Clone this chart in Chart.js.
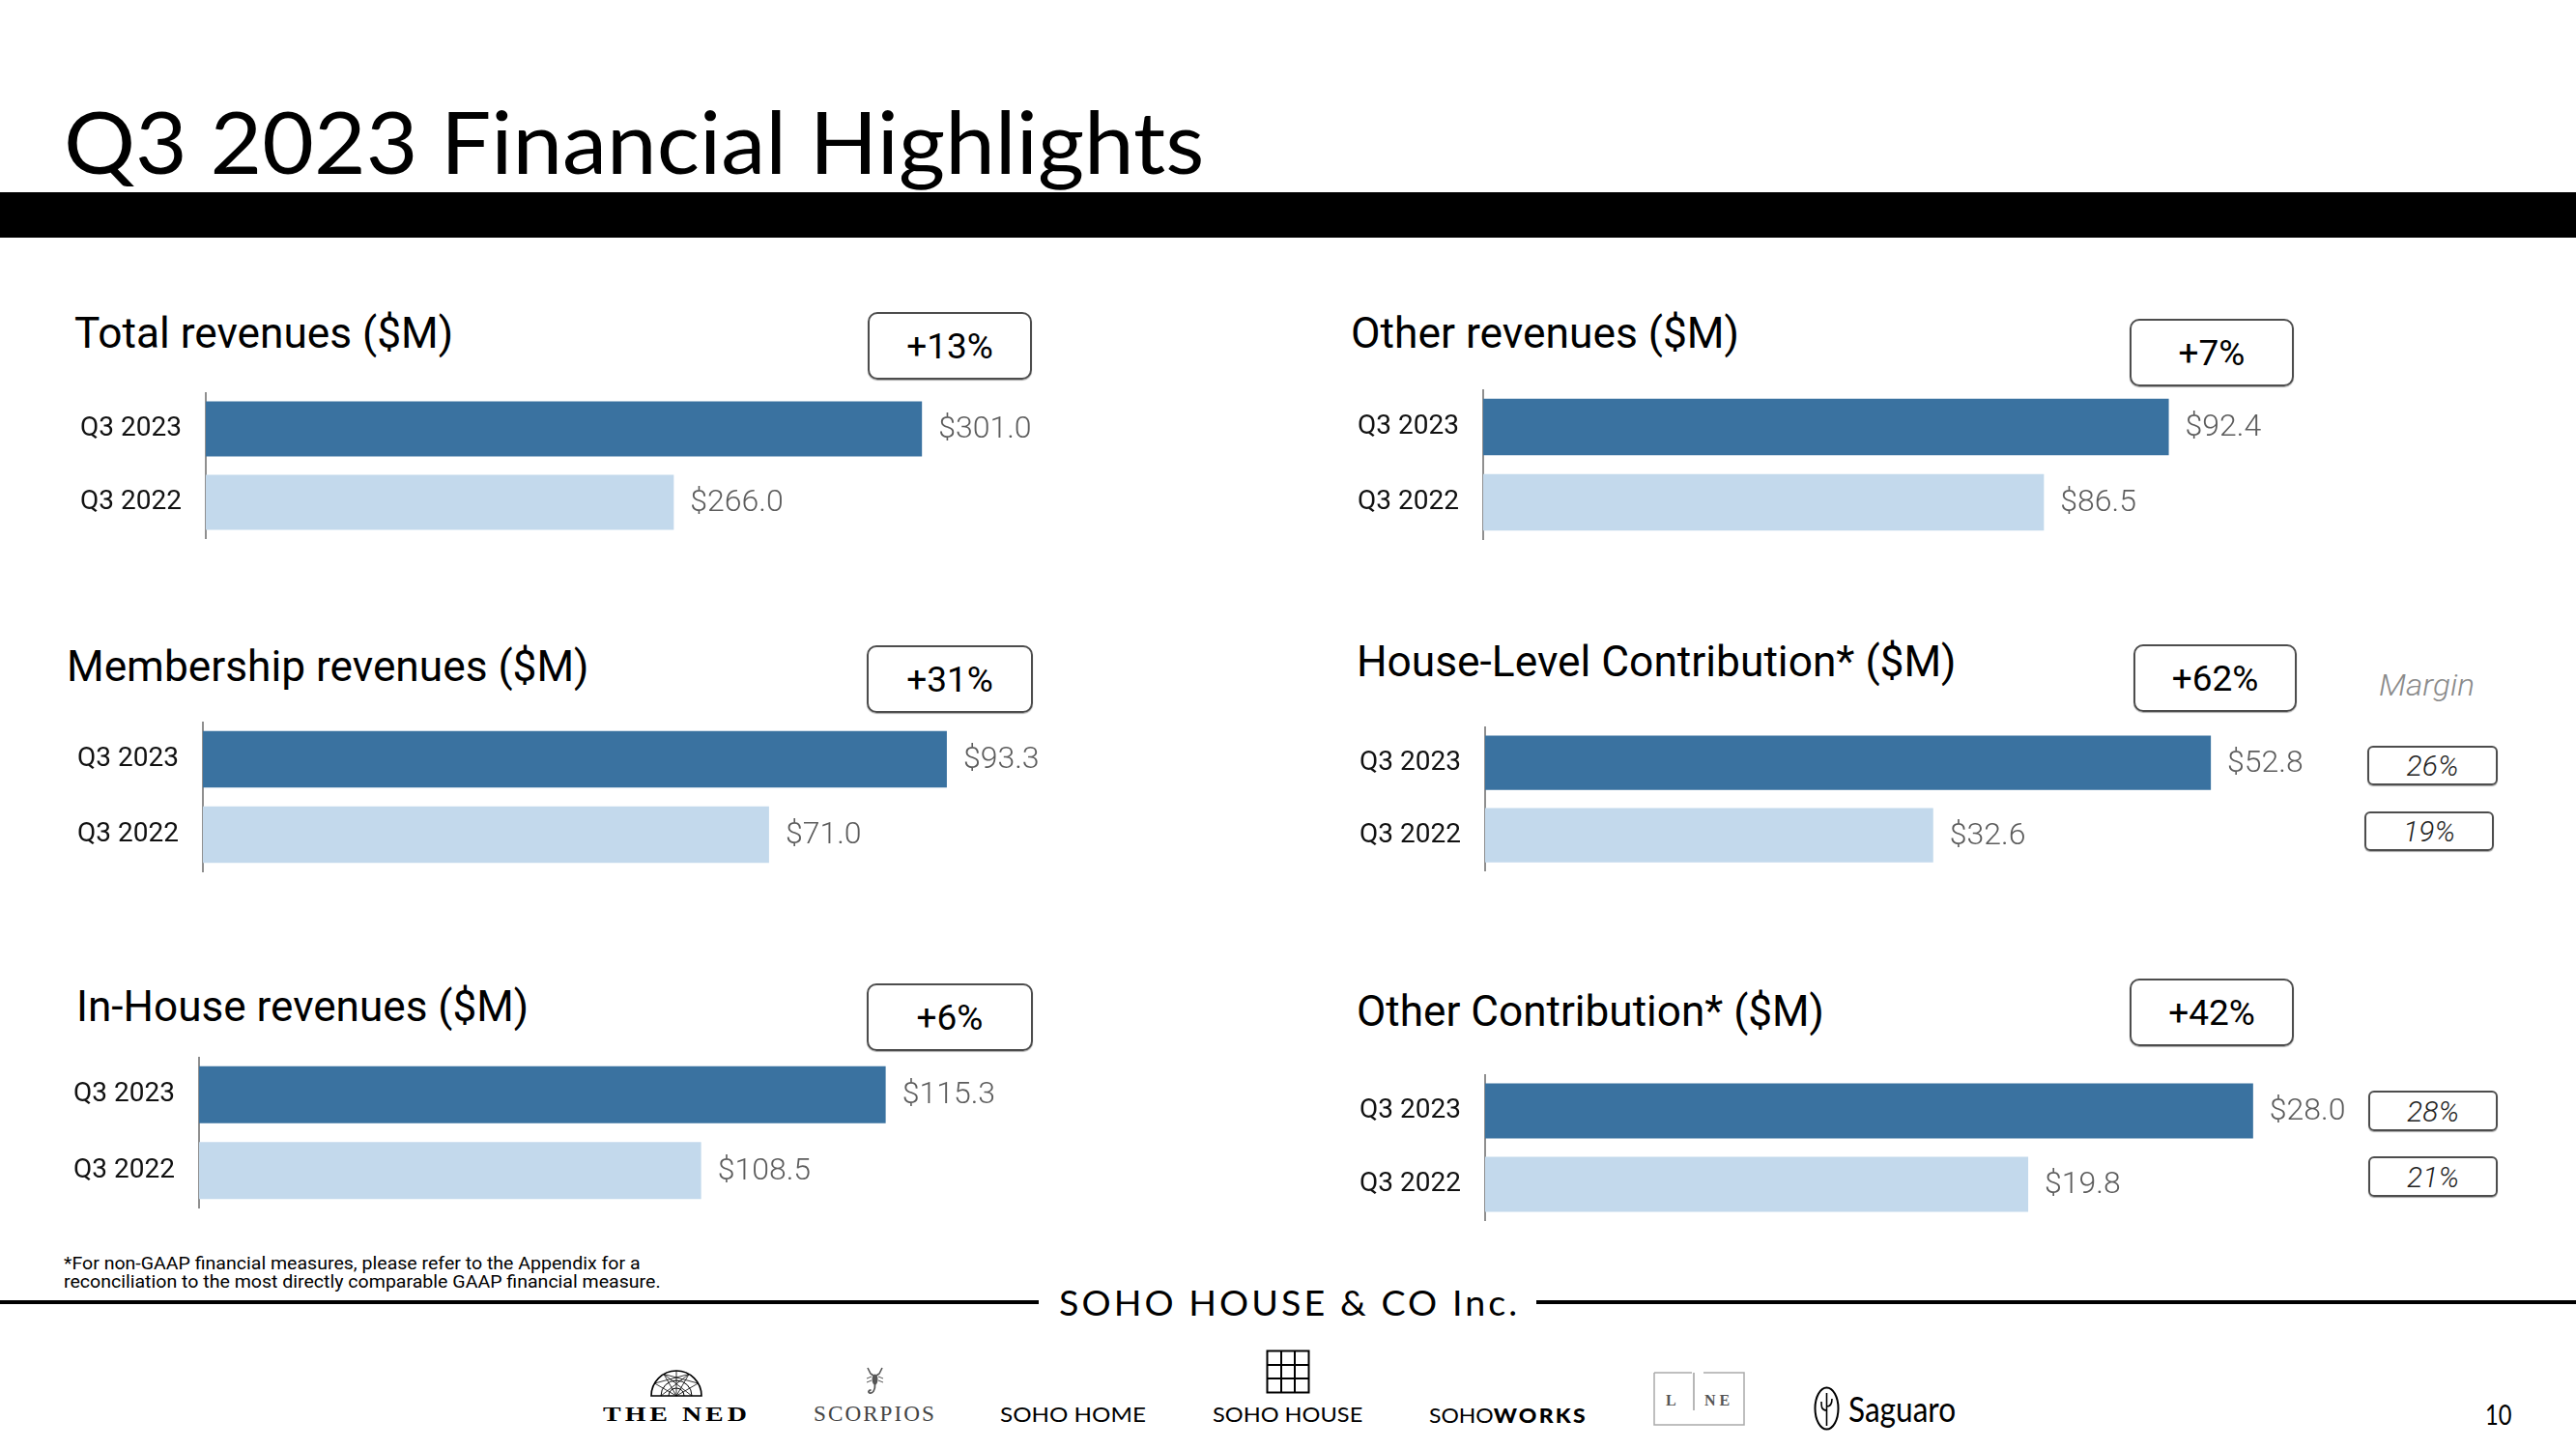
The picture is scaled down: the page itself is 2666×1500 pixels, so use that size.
<!DOCTYPE html>
<html><head><meta charset="utf-8">
<script src="https://cdn.jsdelivr.net/npm/chart.js@4.4.0/dist/chart.umd.min.js"></script>
<style>
html,body{margin:0;padding:0;background:#fff;}
body{width:2666px;height:1500px;position:relative;overflow:hidden;font-family:Roboto,sans-serif;}
.t{position:absolute;white-space:nowrap;transform-origin:0 0;line-height:1.2;}
.box{position:absolute;border:2px solid #4d4d4d;border-radius:10px;box-sizing:border-box;display:flex;align-items:center;justify-content:center;font-family:Roboto;font-size:37px;color:#000;box-shadow:0 1px 1px rgba(0,0,0,0.35);}
.mbox{position:absolute;border:2px solid #4d4d4d;border-radius:6px;box-sizing:border-box;display:flex;align-items:center;justify-content:center;font-family:Roboto;font-style:italic;font-weight:300;font-size:30px;color:#222;box-shadow:0 1px 1px rgba(0,0,0,0.35);}
canvas{position:absolute;}
.rule{position:absolute;background:#000;}
svg{position:absolute;}
</style>
</head>
<body>
<div class="rule" style="left:0;top:199px;width:2666px;height:47px;"></div>
<div class="rule" style="left:0;top:1346px;width:1075px;height:4px;"></div>
<div class="rule" style="left:1590px;top:1346px;width:1076px;height:4px;"></div>

<!-- logo icons -->
<svg style="left:671px;top:1417px" width="58" height="31" viewBox="0 0 58 31">
  <path d="M3 28 A26 26 0 0 1 55 28 Z" fill="none" stroke="#000" stroke-width="1.6"/>
  <path d="M13 28 A16 16 0 0 1 45 28" fill="none" stroke="#000" stroke-width="1"/>
  <path d="M21 28 A8 8 0 0 1 37 28" fill="none" stroke="#000" stroke-width="1"/>
  <path d="M29 28 L51.5 15 M29 28 L42 5.5 M29 28 L29 2 M29 28 L16 5.5 M29 28 L6.5 15 M6.5 15 L42 5.5 M51.5 15 L16 5.5 M16 5.5 L45 28 M42 5.5 L13 28" fill="none" stroke="#000" stroke-width="0.8"/>
</svg>
<svg style="left:892px;top:1414px" width="28" height="31" viewBox="0 0 28 31">
  <path d="M6 2 L9 8 L12 10 M21 2 L18 8 L15 10" stroke="#555" fill="none" stroke-width="1.6"/>
  <ellipse cx="13.5" cy="14" rx="3" ry="5.5" fill="#555"/>
  <path d="M10 11 L5 13 M17 11 L22 13 M10 15 L5 17 M17 15 L22 17" stroke="#555" stroke-width="1"/>
  <path d="M13.5 19 C14 25 11 29 8 28 C6 27 7 25 9.5 25" stroke="#555" fill="none" stroke-width="1.8"/>
</svg>
<svg style="left:1310px;top:1397px" width="47" height="47" viewBox="0 0 47 47">
  <rect x="1.5" y="1.5" width="43" height="43" fill="none" stroke="#000" stroke-width="2"/>
  <path d="M16 1.5 V44.5 M30 1.5 V44.5 M1.5 16 H44.5 M1.5 30 H44.5" stroke="#000" stroke-width="2"/>
</svg>
<svg style="left:1711px;top:1420px" width="96" height="57" viewBox="0 0 96 57">
  <path d="M1 1 H40 M1 1 V55 H94 V1 H52" fill="none" stroke="#aaa" stroke-width="1.5"/>
  <path d="M42 1 V40" stroke="#888" stroke-width="1.2"/>
</svg>
<svg style="left:1876px;top:1434px" width="29" height="48" viewBox="0 0 29 48">
  <ellipse cx="14.5" cy="24" rx="12" ry="21.5" fill="none" stroke="#000" stroke-width="2"/>
  <path d="M14.5 8 V42 M14.5 26 C9 26 9 22 9 17 M14.5 22 C19 22 20 19 20 14" fill="none" stroke="#000" stroke-width="1.6"/>
</svg>

<script>
// ---------------- data ----------------
const categories = ['Q3 2023', 'Q3 2022'];
const totalRevenues = [301.0, 266.0];
const otherRevenues = [92.4, 86.5];
const membershipRevenues = [93.3, 71.0];
const houseLevelContribution = [52.8, 32.6];
const inHouseRevenues = [115.3, 108.5];
const otherContribution = [28.0, 19.8];
const panelTitles = ['Total revenues ($M)', 'Other revenues ($M)', 'Membership revenues ($M)',
  'House-Level Contribution* ($M)', 'In-House revenues ($M)', 'Other Contribution* ($M)'];
const growthLabels = ['+13%', '+7%', '+31%', '+62%', '+6%', '+42%'];
const houseLevelMargins = ['26%', '19%'];
const otherContributionMargins = ['28%', '21%'];
const axisMins = [200, 60, 0, 0, 90, 0];
const axisMaxs = [330, 100, 115, 62, 124, 31];
const seriesList = [totalRevenues, otherRevenues, membershipRevenues, houseLevelContribution, inHouseRevenues, otherContribution];

// ---------------- layout / style ----------------
const DARK = '#3a72a0';
const LIGHT = '#c3d9ec';
const chartBoxes = [
  {left:40,   top:406,  h:152, axisX:213,  plotW:954},
  {left:1380, top:403,  h:156, axisX:1535, plotW:876},
  {left:40,   top:747,  h:156, axisX:210,  plotW:949},
  {left:1380, top:752,  h:150, axisX:1537, plotW:882},
  {left:40,   top:1094, h:157, axisX:206,  plotW:955},
  {left:1380, top:1112, h:152, axisX:1537, plotW:880}
];
const titleBoxes = [
  {x:77, b:360, w:392}, {x:1398, b:360, w:402}, {x:69, b:705, w:541},
  {x:1404, b:700, w:621}, {x:79, b:1057, w:468}, {x:1404, b:1062, w:484}
];
const growthBoxes = [
  [898,323,1068,393],[2204,330,2374,400],[897,668,1069,738],
  [2208,667,2377,737],[897,1018,1069,1088],[2204,1013,2374,1083]
];
const marginBoxes = [
  [2450,772,2585,813],[2447,840,2581,881],[2451,1129,2585,1171],[2451,1197,2585,1239]
];

function addText(txt, x, b, w, css){
  const el = document.createElement('div');
  el.className = 't';
  el.style.cssText += css;
  el.style.left = x + 'px';
  el.innerHTML = txt;
  const m = document.createElement('span');
  m.style.cssText = 'display:inline-block;width:0;height:0;vertical-align:baseline;';
  el.appendChild(m);
  document.body.appendChild(el);
  el.dataset.b = b; el.dataset.w = w || '';
  return el;
}
function placeAll(){
  document.querySelectorAll('.t').forEach(el=>{
    const m = el.lastChild;
    el.style.top = (parseFloat(el.dataset.b) - m.offsetTop) + 'px';
    if (el.dataset.w) {
      const s = parseFloat(el.dataset.w) / el.offsetWidth;
      el.style.transform = 'scaleX(' + s + ')';
    }
  });
}

// static texts
addText('Q3 2023 Financial Highlights', 66, 180, 1180, 'font-family:Lato;font-size:90px;color:#000;');
addText('*For non-GAAP financial measures, please refer to the Appendix for a', 66, 1314, 596, 'font-family:Roboto;font-size:18px;color:#000;');
addText('reconciliation to the most directly comparable GAAP financial measure.', 66, 1333, 618, 'font-family:Roboto;font-size:18px;color:#000;');
addText('SOHO HOUSE &amp; CO Inc.', 1096, 1362, 477, 'font-family:Lato;font-size:37px;letter-spacing:3px;color:#000;');
addText('THE NED', 624, 1471, 153, 'font-family:"Liberation Serif";font-weight:bold;font-size:21px;letter-spacing:3px;color:#000;');
addText('SCORPIOS', 842, 1471, 127, 'font-family:"Liberation Serif";font-size:23px;letter-spacing:2px;color:#444;');
addText('SOHO HOME', 1035, 1472, 151, 'font-family:Lato;font-size:21px;color:#000;');
addText('SOHO HOUSE', 1255, 1472, 155, 'font-family:Lato;font-size:21px;color:#000;');
addText('SOHO<b style="letter-spacing:2px;font-weight:900">WORKS</b>', 1479, 1473, 164, 'font-family:Lato;font-size:21px;color:#000;');
addText('L', 1724, 1455, 0, 'font-family:"Liberation Serif";font-weight:bold;font-size:16px;color:#555;');
addText('N E', 1764, 1455, 0, 'font-family:"Liberation Serif";font-weight:bold;font-size:16px;color:#555;');
addText('Saguaro', 1913, 1472, 111, 'font-family:Lato;font-size:37px;color:#000;');
addText('10', 2572, 1475, 27, 'font-family:Lato;font-size:28px;color:#000;');
addText('Margin', 2462, 720, 99, 'font-family:Roboto;font-style:italic;font-weight:300;font-size:31px;color:#8a8a8a;');

panelTitles.forEach((t,i)=>{
  const tb = titleBoxes[i];
  addText(t, tb.x, tb.b, tb.w, 'font-family:Roboto;font-size:44px;color:#000;');
});
growthLabels.forEach((g,i)=>{
  const [x1,y1,x2,y2] = growthBoxes[i];
  const d = document.createElement('div');
  d.className = 'box';
  d.style.left = x1+'px'; d.style.top = y1+'px';
  d.style.width = (x2-x1)+'px'; d.style.height = (y2-y1)+'px';
  d.textContent = g;
  document.body.appendChild(d);
});
houseLevelMargins.concat(otherContributionMargins).forEach((m,i)=>{
  const [x1,y1,x2,y2] = marginBoxes[i];
  const d = document.createElement('div');
  d.className = 'mbox';
  d.style.left = x1+'px'; d.style.top = y1+'px';
  d.style.width = (x2-x1)+'px'; d.style.height = (y2-y1)+'px';
  d.textContent = m;
  document.body.appendChild(d);
});

const valueLabels = {
  id: 'valueLabels',
  afterDatasetsDraw(chart){
    const ctx = chart.ctx;
    const meta = chart.getDatasetMeta(0);
    const vals = chart.data.datasets[0].data;
    ctx.save();
    ctx.font = '300 32px Roboto';
    ctx.fillStyle = '#5c5c5c';
    ctx.textBaseline = 'middle';
    ctx.textAlign = 'left';
    meta.data.forEach((bar,j)=>{
      ctx.fillText('$' + vals[j].toFixed(1), bar.x + 17, bar.y + 1);
    });
    ctx.restore();
  }
};

function makeChart(i){
  const L = chartBoxes[i];
  const yw = L.axisX - L.left;
  const padR = 80;
  const W = yw + L.plotW + padR;
  const cv = document.createElement('canvas');
  cv.width = W; cv.height = L.h;
  cv.style.left = L.left + 'px'; cv.style.top = L.top + 'px';
  cv.style.width = W + 'px'; cv.style.height = L.h + 'px';
  document.body.appendChild(cv);
  new Chart(cv, {
    type: 'bar',
    data: {
      labels: categories,
      datasets: [{
        data: seriesList[i],
        backgroundColor: [DARK, LIGHT],
        borderWidth: 0,
        categoryPercentage: 1,
        barPercentage: 0.75
      }]
    },
    options: {
      indexAxis: 'y',
      responsive: false,
      animation: false,
      devicePixelRatio: 1,
      layout: {autoPadding: false, padding: {left: 0, right: padR, top: 0, bottom: 0}},
      plugins: {legend: {display: false}, tooltip: {enabled: false}},
      scales: {
        x: {display: false, min: axisMins[i], max: axisMaxs[i]},
        y: {
          afterFit(s){ s.width = yw; s.paddingTop = 0; s.paddingBottom = 0; },
          grid: {display: false, drawTicks: false},
          border: {display: true, color: '#8f8f8f', width: 2},
          ticks: {padding: 25, color: '#111', font: {family: 'Roboto', size: 28}}
        }
      }
    },
    plugins: [valueLabels]
  });
}

Promise.all([
  document.fonts.load('44px Roboto'), document.fonts.load('300 32px Roboto'),
  document.fonts.load('italic 300 30px Roboto'), document.fonts.load('90px Lato'),
  document.fonts.load('900 21px Lato'), document.fonts.load('bold 21px "Liberation Serif"'),
  document.fonts.load('21px "Liberation Serif"')
]).catch(()=>{}).then(()=>{
  placeAll();
  for (let i = 0; i < 6; i++) makeChart(i);
});
</script>
</body></html>
